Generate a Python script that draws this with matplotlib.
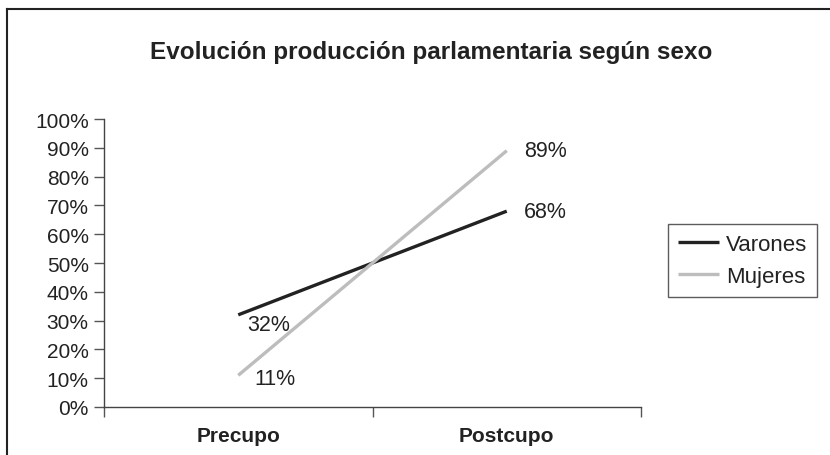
import matplotlib
matplotlib.use("Agg")
import matplotlib.pyplot as plt
from matplotlib.lines import Line2D
from matplotlib.ticker import FixedLocator, PercentFormatter

categories = ["Precupo", "Postcupo"]
varones = [32, 68]
mujeres = [11, 89]
series_names = ["Varones", "Mujeres"]
title = "Evolución producción parlamentaria según sexo"

plt.rcParams['font.family'] = ['Liberation Sans', 'DejaVu Sans']

W, H = 830, 456
fig = plt.figure(figsize=(W/100, H/100), dpi=100)
ax = fig.add_axes([104/W, 1-408/H, (641-104)/W, (408-120)/H])

x = list(range(len(categories)))
ax.plot(x, varones, color="#222222", lw=2.4, label=series_names[0], solid_capstyle='butt')
ax.plot(x, mujeres, color="#bdbdbd", lw=2.4, label=series_names[1], solid_capstyle='butt')

ax.set_xlim(-0.5, 1.5)
ax.set_ylim(0, 100)
ax.set_yticks(range(0, 101, 10))
ax.yaxis.set_major_formatter(PercentFormatter(decimals=0))
ax.tick_params(axis='y', labelsize=15, length=7, width=1, color="#555555", pad=4, labelcolor="#222222")
ax.set_xticks(x)
ax.set_xticklabels(categories, fontsize=15, fontweight='bold', color="#222222")
ax.tick_params(axis='x', which='major', length=0, pad=14)
ax.xaxis.set_minor_locator(FixedLocator([-0.5, 0.5, 1.5]))
ax.tick_params(axis='x', which='minor', length=7, width=1, color="#555555")
for s in ['top', 'right']:
    ax.spines[s].set_visible(False)
for s in ['left', 'bottom']:
    ax.spines[s].set_color("#444444")
    ax.spines[s].set_linewidth(1)

offsets = {(0, 0): (9, -10), (0, 1): (17, 0), (1, 0): (16, -3), (1, 1): (17, 0)}
for si, vals in enumerate([varones, mujeres]):
    for i, v in enumerate(vals):
        dx, dy = offsets[(si, i)]
        ax.annotate(f"{v}%", (x[i], v), xytext=(dx, dy), textcoords='offset pixels',
                    ha='left', va='center', fontsize=15.5, color="#222222")

fig.text(431/W, 1-52/H, title, ha='center', va='center', fontsize=17.5, fontweight='bold', color="#222222")

leg = fig.legend(loc='upper left', bbox_to_anchor=(668/W, 1-225/H), fontsize=16,
                 frameon=True, fancybox=False, handlelength=1.85, handletextpad=0.3,
                 borderpad=0.45, labelspacing=0.5, borderaxespad=0)
leg.get_frame().set_edgecolor("#333333")
leg.get_frame().set_linewidth(1)
for t in leg.get_texts():
    t.set_color("#222222")

fig.add_artist(Line2D([7/W, 7/W], [0, 1-10/H], transform=fig.transFigure, color="#222222", lw=1.5))
fig.add_artist(Line2D([7/W, 1], [1-10/H, 1-10/H], transform=fig.transFigure, color="#222222", lw=1.5))

fig.savefig("out.png", dpi=100)
